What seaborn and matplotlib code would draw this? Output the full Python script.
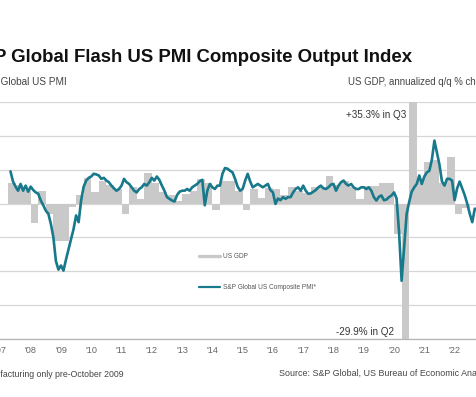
import numpy as np
import matplotlib
matplotlib.use("Agg")
import matplotlib.pyplot as plt
import seaborn as sns
from matplotlib.lines import Line2D

# ---------------- data ----------------
# S&P Global US Composite PMI, monthly, May 2007 .. Oct 2022
pmi_start_year = 2007
pmi_start_month = 5
pmi_2007 = [59.5, 56.5, 55.0, 53.8, 55.8, 53.8, 55.3, 53.5]
pmi_2008 = [55.0, 54.0, 53.3, 52.9, 50.9, 49.5, 47.9, 47.0, 44.0, 40.0, 33.0, 30.5]
pmi_2009 = [31.7, 30.2, 33.5, 36.5, 39.6, 42.5, 46.5, 44.5, 51.0, 55.0, 56.8, 57.6]
pmi_2010 = [58.0, 58.8, 58.6, 58.3, 57.3, 57.6, 56.8, 56.3, 55.3, 54.5, 53.8, 54.3]
pmi_2011 = [55.3, 57.3, 56.3, 55.8, 54.8, 53.8, 53.3, 54.3, 54.8, 55.8, 55.3, 56.3]
pmi_2012 = [57.6, 56.8, 58.0, 57.0, 55.3, 53.8, 51.9, 51.4, 50.9, 50.6, 52.5, 53.5]
pmi_2013 = [53.8, 53.8, 54.3, 53.8, 54.8, 55.3, 55.8, 56.6, 57.0, 49.5, 53.8, 55.8]
pmi_2014 = [54.8, 54.3, 55.3, 55.3, 58.8, 60.5, 60.3, 59.7, 59.2, 57.3, 55.0, 53.8]
pmi_2015 = [54.3, 56.8, 58.8, 56.5, 54.8, 55.3, 55.8, 55.3, 54.8, 55.3, 55.8, 54.0]
pmi_2016 = [53.3, 49.9, 51.5, 51.0, 51.9, 51.4, 51.9, 51.9, 53.3, 54.3, 54.8, 53.8]
pmi_2017 = [55.3, 53.8, 52.9, 53.0, 53.5, 54.0, 54.8, 55.3, 54.5, 54.3, 54.8, 55.6]
pmi_2018 = [55.8, 53.8, 55.3, 56.3, 56.8, 55.8, 55.3, 55.8, 54.8, 54.3, 54.3, 54.8]
pmi_2019 = [54.8, 54.3, 54.8, 53.8, 51.9, 50.9, 52.0, 52.4, 51.0, 51.2, 51.9, 52.4]
pmi_2020 = [53.3, 51.5, 41.5, 27.2, 37.0, 47.0, 50.5, 53.5, 54.8, 55.8, 58.3, 55.8]
pmi_2021 = [58.0, 59.2, 59.7, 63.0, 68.6, 65.0, 61.5, 56.5, 55.3, 57.3, 57.3, 56.8]
pmi_2022 = [51.0, 54.5, 56.5, 54.5, 52.5, 50.0, 47.0, 44.5, 48.5, 48.2]

# US GDP, annualized q/q % change, quarterly, 2007 Q2 .. 2022 Q2
gdp_start_year = 2007
gdp_start_quarter = 2
gdp_values = [3.1, 2.8, 2.0,
              -2.8, 1.8, -1.5, -5.5,
              -5.5, -0.5, 1.2, 3.8,
              1.7, 3.4, 2.8, 2.2,
              -1.6, 2.4, 0.7, 4.5,
              3.0, 1.7, 1.2, 0.4,
              1.4, 1.9, 3.6, 3.0,
              -1.0, 3.3, 3.3, 1.9,
              -0.9, 2.2, 0.8, 2.3,
              2.1, 1.2, 2.5, 1.9,
              1.5, 2.4, 2.5, 4.0,
              2.7, 3.4, 2.5, 0.7,
              2.6, 2.6, 3.0, 3.0,
              -4.5, -29.9, 35.3, 3.6,
              6.2, 6.5, 3.1, 6.9,
              -1.6, -0.6]

year_ticks = list(range(2007, 2023))
year_labels = ["'" + str(y)[2:] for y in year_ticks]

# ---------------- figure ----------------
W, H = 476, 397
DPI = 100
sns.set_style("white")
plt.rcParams['font.family'] = ['Liberation Sans', 'DejaVu Sans']

fig = plt.figure(figsize=(W / DPI, H / DPI), dpi=DPI)

def fx(px):
    return px / W

def fy(py):
    return (H - py) / H

ax = fig.add_axes([0, fy(339), 1, fy(102) - fy(339)])
ax2 = ax.twinx()

teal = "#17798b"
bar_grey = "#c9c9c9"
grid_grey = "#d6d6d6"

pmi_values = (pmi_2007 + pmi_2008 + pmi_2009 + pmi_2010 + pmi_2011 + pmi_2012 +
              pmi_2013 + pmi_2014 + pmi_2015 + pmi_2016 + pmi_2017 + pmi_2018 +
              pmi_2019 + pmi_2020 + pmi_2021 + pmi_2022)
pmi_x = pmi_start_year + (pmi_start_month - 1 + np.arange(len(pmi_values))) / 12.0

gdp_x = gdp_start_year + (gdp_start_quarter - 1 + np.arange(len(gdp_values))) * 0.25 + 0.125

# GDP bars (right-hand scale, drawn behind)
ax.bar(gdp_x, gdp_values, width=0.25, color=bar_grey, linewidth=0, zorder=2)
ax.set_ylim(-20, 15)
ax.set_yticks(np.arange(-20, 16, 5))
ax.yaxis.grid(True, color=grid_grey, linewidth=0.9, zorder=0)
ax.set_axisbelow(True)
ax.tick_params(axis='y', left=False, right=False, labelleft=False, labelright=False)

# PMI line (left-hand scale)
sns.lineplot(x=pmi_x, y=pmi_values, ax=ax2, color=teal, linewidth=1.9, zorder=3)
ax2.set_ylim(10, 80)
ax2.tick_params(axis='y', left=False, right=False, labelleft=False, labelright=False)
ax2.set_ylabel("")

xmin = 2007 - 0.4 / 30.28
xmax = 2007 + (W - 0.4) / 30.28
ax.set_xlim(xmin, xmax)
ax2.set_xlim(xmin, xmax)

ax.set_xticks(year_ticks)
ax.set_xticklabels(year_labels)
ax.tick_params(axis='x', direction='out', length=2.5, width=0.8, color="#aaaaaa",
               labelsize=6.6, labelcolor="#666666", pad=2.5)
ax2.tick_params(axis='x', bottom=False, labelbottom=False)

for a in (ax, ax2):
    for s in ("top", "left", "right"):
        a.spines[s].set_visible(False)
ax.spines["bottom"].set_color("#b5b5b5")
ax.spines["bottom"].set_linewidth(0.9)
ax2.spines["bottom"].set_visible(False)

# legend
handles = [Line2D([0], [0], color=bar_grey, linewidth=2.4),
           Line2D([0], [0], color=teal, linewidth=1.6)]
labels = ["US GDP", "S&P Global US Composite PMI*"]
leg = ax2.legend(handles, labels, loc='center left',
                 bbox_to_anchor=(fx(199), fy(272)), bbox_transform=fig.transFigure,
                 frameon=False, fontsize=4.7, handlelength=3.2, handletextpad=0.45,
                 labelspacing=3.7, borderpad=0, borderaxespad=0)
for t in leg.get_texts():
    t.set_color("#555555")

# titles & notes
fig.text(fx(412), fy(62), "S&P Global Flash US PMI Composite Output Index",
         ha='right', va='baseline', fontsize=13.4, fontweight='bold', color="#111111")
fig.text(fx(67), fy(85), "S&P Global US PMI", ha='right', va='baseline',
         fontsize=7.2, color="#444444")
fig.text(fx(348), fy(85), "US GDP, annualized q/q % change", ha='left', va='baseline',
         fontsize=6.9, color="#444444")
fig.text(fx(406.5), fy(118), "+35.3% in Q3", ha='right', va='baseline',
         fontsize=7.1, color="#333333")
fig.text(fx(394), fy(335), "-29.9% in Q2", ha='right', va='baseline',
         fontsize=7.1, color="#333333")
fig.text(fx(123.3), fy(377), "*Manufacturing only pre-October 2009", ha='right',
         va='baseline', fontsize=6.3, color="#444444")
fig.text(fx(279.3), fy(376), "Source: S&P Global, US Bureau of Economic Analysis.",
         ha='left', va='baseline', fontsize=6.4, color="#444444")

fig.savefig("out.png", dpi=DPI)
